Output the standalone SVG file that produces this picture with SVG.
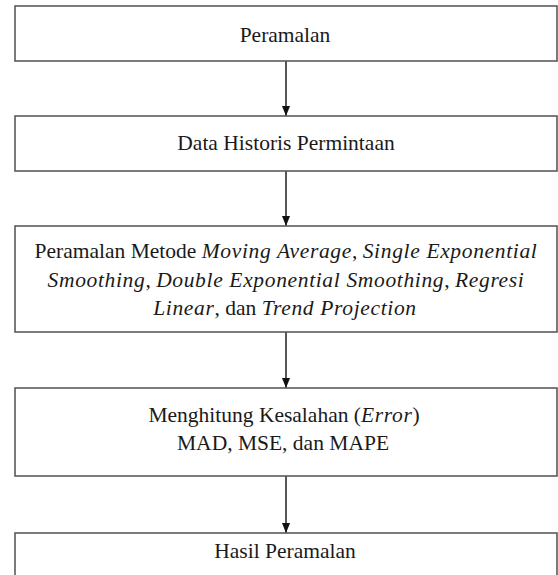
<svg xmlns="http://www.w3.org/2000/svg" width="558" height="575" viewBox="0 0 558 575">
<style>
.box{fill:#fff;stroke:#5a5a5a;stroke-width:1.6}
.t{font-family:"Liberation Serif","Times New Roman",serif;font-size:21.5px;fill:#1a1a1a}
.c{text-anchor:middle}
.i{font-style:italic;letter-spacing:0.65px}
.ln{stroke:#111;stroke-width:1.4;fill:none}
</style>
<defs>
<marker id="ah" viewBox="0 0 10 10" refX="10" refY="5" markerWidth="10" markerHeight="9" markerUnits="userSpaceOnUse" orient="auto" preserveAspectRatio="none">
<path d="M0,0.5 L10,5 L0,9.5 Z" fill="#111"/>
</marker>
</defs>
<rect width="558" height="575" fill="#fff"/>
<g id="connectors">
<line class="ln" x1="286" y1="61" x2="286" y2="116" marker-end="url(#ah)"/>
<line class="ln" x1="286" y1="171" x2="286" y2="226" marker-end="url(#ah)"/>
<line class="ln" x1="286" y1="332" x2="286" y2="388" marker-end="url(#ah)"/>
<line class="ln" x1="286" y1="476" x2="286" y2="533" marker-end="url(#ah)"/>
</g>
<g id="n1">
<rect class="box" x="15" y="6" width="542" height="55"/>
<text class="t c" x="285" y="42">Peramalan</text>
</g>
<g id="n2">
<rect class="box" x="15" y="116" width="542" height="55"/>
<text class="t c" x="286" y="150">Data Historis Permintaan</text>
</g>
<g id="n3">
<rect class="box" x="15" y="226" width="542" height="106"/>
<text class="t c" x="286" y="258">Peramalan Metode <tspan class="i">Moving Average</tspan>, <tspan class="i">Single Exponential</tspan></text>
<text class="t c" x="286" y="287"><tspan class="i">Smoothing</tspan>, <tspan class="i">Double Exponential Smoothing</tspan>, <tspan class="i">Regresi</tspan></text>
<text class="t c" x="285" y="315"><tspan class="i">Linear</tspan>, dan <tspan class="i">Trend Projection</tspan></text>
</g>
<g id="n4">
<rect class="box" x="15" y="388" width="542" height="88"/>
<text class="t c" x="284" y="422">Menghitung Kesalahan (<tspan class="i">Error</tspan>)</text>
<text class="t c" x="283" y="450">MAD, MSE, dan MAPE</text>
</g>
<g id="n5">
<rect class="box" x="15" y="533" width="542" height="60"/>
<text class="t c" x="285" y="558">Hasil Peramalan</text>
</g>
</svg>
